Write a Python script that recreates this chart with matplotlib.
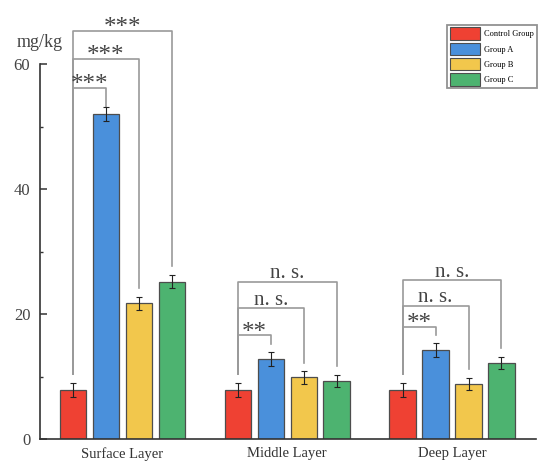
import matplotlib.pyplot as plt
from matplotlib.patches import Patch

# Data
layers = ['Surface Layer', 'Middle Layer', 'Deep Layer']
groups = ['Control Group', 'Group A', 'Group B', 'Group C']
means = {
    'Control Group': [7.8, 7.8, 7.8],
    'Group A': [52.0, 12.8, 14.2],
    'Group B': [21.7, 9.85, 8.8],
    'Group C': [25.2, 9.3, 12.2],
}
errors = {
    'Control Group': [1.1, 1.1, 1.1],
    'Group A': [1.1, 1.1, 1.1],
    'Group B': [1.1, 1.0, 1.0],
    'Group C': [1.1, 1.0, 1.0],
}
colors = ['#EF4133', '#4A90DB', '#F2C74C', '#4DB370']

# significance brackets: (layer index, compared group index, label, bracket level)
brackets = [
    (0, 1, '***', 56.2), (0, 2, '***', 60.8), (0, 3, '***', 65.3),
    (1, 1, '**', 16.6), (1, 2, 'n. s.', 20.9), (1, 3, 'n. s.', 25.2),
    (2, 1, '**', 17.9), (2, 2, 'n. s.', 21.3), (2, 3, 'n. s.', 25.4),
]

plt.rcParams['font.family'] = 'Liberation Serif'

fig = plt.figure(figsize=(5.5, 4.75), dpi=100)
ax = fig.add_axes([0.0727, 0.0758, 0.902, 0.789])

step = 0.2
width = 0.16
offsets = [(i - 1.5) * step for i in range(len(groups))]

def bar_x(li, gi):
    return li + offsets[gi]

for gi, g in enumerate(groups):
    xs = [bar_x(li, gi) for li in range(len(layers))]
    ax.bar(xs, means[g], width=width, color=colors[gi], edgecolor='#4d4d4d',
           linewidth=0.9, yerr=errors[g], capsize=2.5,
           error_kw=dict(elinewidth=0.8, capthick=0.8, ecolor='#222222'),
           label=g, zorder=2)

gap = 1.5
for li, gi, label, level in brackets:
    x0 = bar_x(li, 0)
    x1 = bar_x(li, gi)
    y0 = means[groups[0]][li] + errors[groups[0]][li] + gap
    y1 = means[groups[gi]][li] + errors[groups[gi]][li] + gap * 0.9
    if gi == 1 and li == 0:
        y1 = means[groups[gi]][li] + errors[groups[gi]][li]
    ax.plot([x0, x0, x1, x1], [y0, level, level, y1], color='#9a9a9a',
            linewidth=1.2, clip_on=False, zorder=1)
    if '*' in label:
        size, off = 18, -2.3
    else:
        size, off = 15, 2.5
    ax.annotate(label, xy=((x0 + x1) / 2, level), xytext=(0, off),
                textcoords='offset points', ha='center', va='baseline',
                fontsize=size, color='#444444', annotation_clip=False)

ax.set_xlim(-0.5, 2.51)
ax.set_ylim(0, 60)
ax.set_yticks([0, 20, 40, 60])
ax.set_yticks([10, 30, 50], minor=True)
ax.set_xticks(range(len(layers)))
ax.set_xticklabels(layers, fontsize=10.5, color='#333333')
ax.tick_params(axis='x', length=0, pad=6)
ax.tick_params(axis='y', which='major', direction='in', length=5, width=1.1,
               labelsize=12, pad=7, colors='#333333', labelcolor='#444444')
ax.tick_params(axis='y', which='minor', direction='in', length=2.5, width=1.0,
               colors='#333333')

for s in ['top', 'right']:
    ax.spines[s].set_visible(False)
for s in ['left', 'bottom']:
    ax.spines[s].set_color('#333333')
    ax.spines[s].set_linewidth(1.2)

ax.text(0.0, 1.035, 'mg/kg', transform=ax.transAxes, ha='center', va='bottom',
        fontsize=13, color='#444444')

handles = [Patch(facecolor=c, edgecolor='#4d4d4d', linewidth=0.8) for c in colors]
leg = fig.legend(handles, groups, loc='upper left', bbox_to_anchor=(447 / 550, 1 - 25 / 475),
                 fontsize=6, frameon=True, fancybox=False, edgecolor='#777777',
                 handlelength=3.6, handleheight=1.9, labelspacing=0.35,
                 handletextpad=0.6, borderpad=0.3, borderaxespad=0)
leg.get_frame().set_linewidth(1.3)

plt.savefig('out.png', dpi=100)
